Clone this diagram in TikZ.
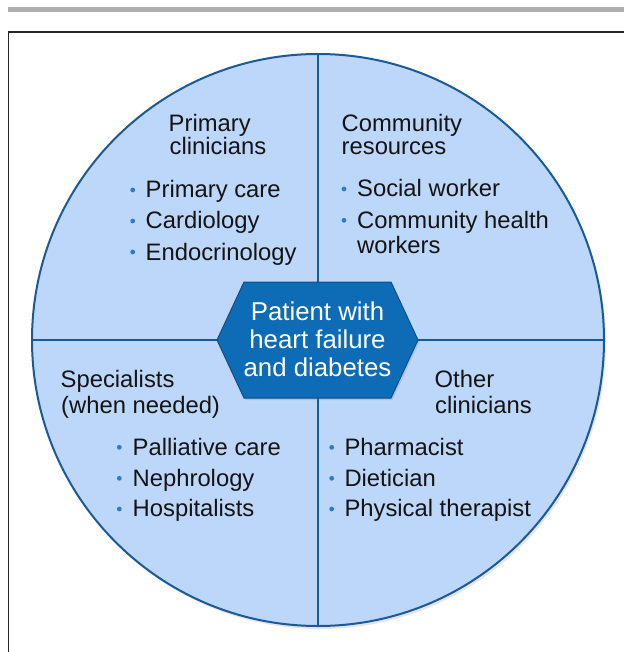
\documentclass[tikz,border=0pt]{standalone}
\usepackage{fontspec}
\setmainfont{Liberation Sans}
\usetikzlibrary{shadows}
\definecolor{circfill}{HTML}{BDD7FA}
\definecolor{circline}{HTML}{1B5A95}
\definecolor{hexfill}{HTML}{0E6CB6}
\definecolor{hexline}{HTML}{0B4F88}
\definecolor{dotblue}{HTML}{2C7DC8}
\definecolor{bargray}{HTML}{AEAEAE}
\definecolor{inktext}{HTML}{141414}
\begin{document}
\begin{tikzpicture}[x=1pt,y=-1pt,
  head/.style={anchor=base west, inner sep=0pt, font=\fontsize{23.8}{25}\selectfont, text=inktext},
  itemtext/.style={head},
  hexlabel/.style={anchor=base, inner sep=0pt, font=\fontsize{25.8}{28}\selectfont, text=white},
  bul/.style={circle, fill=dotblue, inner sep=0pt, minimum size=4.8pt},
  divider/.style={draw=circline, line width=1.6pt}]
\useasboundingbox (0,0) rectangle (624,652);
\fill[white] (0,0) rectangle (624,652);
% top bar and frame
\fill[bargray] (8,7) rectangle (624,12);
\draw[line width=1.5pt, black!85] (8.7,652) -- (8.7,32) -- (624,32);
% circle
\node (circ) [circle, minimum size=572pt, inner sep=0pt, outer sep=0pt,
  draw=circline, line width=2pt, fill=circfill,
  drop shadow={shadow xshift=2pt, shadow yshift=-3pt, opacity=0.2}] at (318,340) {};
\draw[divider] (circ.north) -- (circ.south);
\draw[divider] (circ.west) -- (circ.east);
% hexagon
\coordinate (h1) at (217,340);
\coordinate (h2) at (244,282);
\coordinate (h3) at (391,282);
\coordinate (h4) at (418,340);
\coordinate (h5) at (391,398);
\coordinate (h6) at (244,398);
\path[fill=hexfill, draw=hexline, line width=1pt,
  drop shadow={shadow xshift=1.5pt, shadow yshift=-2pt, opacity=0.25}]
  (h1) -- (h2) -- (h3) -- (h4) -- (h5) -- (h6) -- cycle;
\node (p1) [hexlabel] at (317.5,320) {Patient with};
\node (p2) [hexlabel] at (317.5,348) {heart failure};
\node (p3) [hexlabel] at (317.5,376) {and diabetes};
% Primary clinicians
\node (a1) [head] at (168.5,131.5) {Primary};
\node (a2) [head] at (169.5,155) {clinicians};
\node (ab1) [bul] at (132.7,190) {};
\node (at1) [itemtext] at (145.5,198) {Primary care};
\node (ab2) [bul] at (132.7,221) {};
\node (at2) [itemtext] at (145.5,229) {Cardiology};
\node (ab3) [bul] at (132.7,252) {};
\node (at3) [itemtext] at (145.5,260) {Endocrinology};
% Community resources
\node (b1) [head] at (341.5,131.5) {Community};
\node (b2) [head] at (341.5,155) {resources};
\node (bb1) [bul] at (344,189) {};
\node (bt1) [itemtext] at (357,196.7) {Social worker};
\node (bb2) [bul] at (344,220.3) {};
\node (bt2) [itemtext] at (357,228) {Community health};
\node (bt3) [itemtext] at (357,253.3) {workers};
% Specialists
\node (c1) [head] at (60.5,387.3) {Specialists};
\node (c2) [head] at (61,413.3) {(when needed)};
\node (cb1) [bul] at (119.3,447.3) {};
\node (ct1) [itemtext] at (132.5,455) {Palliative care};
\node (cb2) [bul] at (119.3,478.3) {};
\node (ct2) [itemtext] at (132.5,486) {Nephrology};
\node (cb3) [bul] at (119.3,509) {};
\node (ct3) [itemtext] at (132.5,516.7) {Hospitalists};
% Other clinicians
\node (d1) [head] at (434.5,387.3) {Other};
\node (d2) [head] at (435,413.3) {clinicians};
\node (db1) [bul] at (331.7,447.3) {};
\node (dt1) [itemtext] at (344.3,455) {Pharmacist};
\node (db2) [bul] at (331.7,478.3) {};
\node (dt2) [itemtext] at (344.3,486) {Dietician};
\node (db3) [bul] at (331.7,509) {};
\node (dt3) [itemtext] at (344.3,516.7) {Physical therapist};
\end{tikzpicture}
\end{document}
